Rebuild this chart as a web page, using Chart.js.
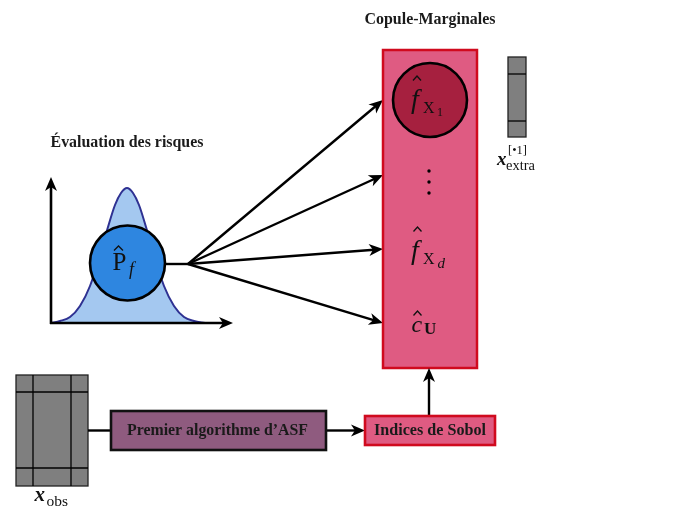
<!DOCTYPE html>
<html>
<head>
<meta charset="utf-8">
<script src="https://cdn.jsdelivr.net/npm/chart.js@4/dist/chart.umd.min.js"></script>
<style>
  html, body { margin: 0; padding: 0; background: #fff; }
  canvas { display: block; }
</style>
</head>
<body>
<canvas id="diagram" width="691" height="510"></canvas>
<script>
// density curve under the risk-evaluation node
const bellX = [51, 60, 70, 80, 90, 100, 108, 115, 121, 127, 133, 139, 146, 154, 164, 174, 184, 194, 205];
const bellY = [323, 321, 317, 306, 286, 255, 227, 205, 193, 188, 193, 205, 227, 255, 286, 306, 317, 321, 323];

// labels
const titles = ['Copule-Marginales', 'Évaluation des risques'];
const boxLabels = ['Premier algorithme d\u2019ASF', 'Indices de Sobol'];
const fanTargets = [100, 175, 249, 323];   // y where the fan arrows hit the copula box

// layout (pixel space of the 691x510 page)
const base = 323;
const fanFrom = { x: 188, y: 264 };
const pf = { x: 127.5, y: 263, r: 37.5 };
const fx1 = { x: 430, y: 100, r: 37 };
const copBox = { x0: 383, y0: 50, x1: 477, y1: 368 };
const asfBox = { x0: 111, y0: 411, x1: 326, y1: 450 };
const sobBox = { x0: 365, y0: 416, x1: 495, y1: 445 };
const obs = { x0: 16, y0: 375, x1: 88, y1: 486, vx: [33, 71], hy: [392, 468] };
const extra = { x0: 508, y0: 57, x1: 526, y1: 137, hy: [74, 121] };

const SERIF = '"Liberation Serif", "DejaVu Serif", serif';

function stealth(ctx, x0, y0, x1, y1, len, half) {
  const a = Math.atan2(y1 - y0, x1 - x0);
  ctx.save();
  ctx.translate(x1, y1);
  ctx.rotate(a);
  ctx.beginPath();
  ctx.moveTo(0, 0);
  ctx.lineTo(-len, -half);
  ctx.lineTo(-len * 0.72, 0);
  ctx.lineTo(-len, half);
  ctx.closePath();
  ctx.fillStyle = '#000';
  ctx.fill();
  ctx.restore();
}

function arrow(ctx, x0, y0, x1, y1, w) {
  const a = Math.atan2(y1 - y0, x1 - x0);
  ctx.beginPath();
  ctx.moveTo(x0, y0);
  ctx.lineTo(x1 - Math.cos(a) * 9, y1 - Math.sin(a) * 9);
  ctx.lineWidth = w || 2.4;
  ctx.strokeStyle = '#000';
  ctx.stroke();
  stealth(ctx, x0, y0, x1, y1, 14, 6);
}

function line(ctx, x0, y0, x1, y1, w) {
  ctx.beginPath();
  ctx.moveTo(x0, y0);
  ctx.lineTo(x1, y1);
  ctx.lineWidth = w || 2.4;
  ctx.strokeStyle = '#000';
  ctx.stroke();
}

function rect(ctx, b, fill, stroke, w) {
  ctx.fillStyle = fill;
  ctx.fillRect(b.x0, b.y0, b.x1 - b.x0, b.y1 - b.y0);
  ctx.lineWidth = w;
  ctx.strokeStyle = stroke;
  ctx.strokeRect(b.x0, b.y0, b.x1 - b.x0, b.y1 - b.y0);
}

function disc(ctx, c, fill) {
  ctx.beginPath();
  ctx.arc(c.x, c.y, c.r, 0, Math.PI * 2);
  ctx.fillStyle = fill;
  ctx.fill();
  ctx.lineWidth = 2.6;
  ctx.strokeStyle = '#000';
  ctx.stroke();
}

// bold text squeezed/stretched to a measured width
function fitText(ctx, text, cx, y, width, size) {
  ctx.font = 'bold ' + size + 'px ' + SERIF;
  const s = size * width / ctx.measureText(text).width;
  ctx.font = 'bold ' + s.toFixed(2) + 'px ' + SERIF;
  ctx.textAlign = 'center';
  ctx.textBaseline = 'middle';
  ctx.fillStyle = '#1a1a1a';
  ctx.fillText(text, cx, y);
}

function glyph(ctx, t, font, x, y) {
  ctx.textAlign = 'left';
  ctx.textBaseline = 'alphabetic';
  ctx.fillStyle = '#111';
  ctx.font = font;
  ctx.fillText(t, x, y);
  return x + ctx.measureText(t).width;
}

function hat(ctx, cx, top, w) {
  ctx.beginPath();
  ctx.moveTo(cx - w / 2, top + 4.5);
  ctx.lineTo(cx, top);
  ctx.lineTo(cx + w / 2, top + 4.5);
  ctx.lineWidth = 1.3;
  ctx.strokeStyle = '#111';
  ctx.stroke();
}

const diagramPlugin = {
  id: 'diagram',
  afterDatasetsDraw(chart) {
    const ctx = chart.ctx;
    const sx = chart.scales.x, sy = chart.scales.y;
    const X = v => sx.getPixelForValue(v), Y = v => sy.getPixelForValue(v);
    const P = o => ({ x: X(o.x), y: Y(o.y), r: X(o.x + o.r) - X(o.x) });
    const B = o => ({ x0: X(o.x0), y0: Y(o.y0), x1: X(o.x1), y1: Y(o.y1) });
    ctx.save();
    ctx.lineCap = 'butt';

    // axes of the density plot
    arrow(ctx, X(bellX[0] - 1), Y(base), X(233), Y(base), 2.6);
    arrow(ctx, X(bellX[0]), Y(base + 1), X(bellX[0]), Y(177), 2.6);

    // fan towards the copula / marginals
    line(ctx, X(pf.x + pf.r), Y(fanFrom.y), X(fanFrom.x), Y(fanFrom.y));
    for (const ty of fanTargets) {
      arrow(ctx, X(fanFrom.x), Y(fanFrom.y), X(copBox.x0), Y(ty));
    }

    disc(ctx, P(pf), '#2E86E0');

    // copula / marginals block
    rect(ctx, B(copBox), '#DF5B82', '#D00A1E', 2.5);
    disc(ctx, P(fx1), '#A6203F');

    const fBig = 'italic 28px ' + SERIF;

    // f_X1
    glyph(ctx, 'f', fBig, X(411), Y(108));
    hat(ctx, X(417), Y(76), 8);
    glyph(ctx, 'X', '16px ' + SERIF, X(423), Y(113));
    glyph(ctx, '1', '12px ' + SERIF, X(437), Y(116));

    // vertical dots
    ctx.fillStyle = '#000';
    for (const dy of [171, 182, 193]) {
      ctx.beginPath();
      ctx.arc(X(429), Y(dy), 1.7, 0, Math.PI * 2);
      ctx.fill();
    }

    // f_Xd
    glyph(ctx, 'f', fBig, X(411), Y(259));
    hat(ctx, X(417.5), Y(227), 8);
    glyph(ctx, 'X', '16px ' + SERIF, X(423), Y(264));
    glyph(ctx, 'd', 'italic 15px ' + SERIF, X(437.5), Y(268));

    // c_U
    glyph(ctx, 'c', 'italic 24px ' + SERIF, X(411.5), Y(332));
    hat(ctx, X(417.5), Y(311), 8);
    glyph(ctx, 'U', 'bold 17px ' + SERIF, X(424), Y(334));

    // P_f
    glyph(ctx, 'P', '25px ' + SERIF, X(112.5), Y(270));
    hat(ctx, X(118.5), Y(246), 9);
    glyph(ctx, 'f', 'italic 18px ' + SERIF, X(129), Y(275));

    // extra sample column
    const e = B(extra);
    rect(ctx, e, '#7F7F7F', '#222', 1.3);
    for (const hy of extra.hy) line(ctx, e.x0, Y(hy), e.x1, Y(hy), 1.3);
    glyph(ctx, 'x', 'bold italic 19px ' + SERIF, X(497), Y(165));
    glyph(ctx, 'extra', '14.5px ' + SERIF, X(506), Y(170));
    glyph(ctx, '[\u20221]', '12.5px ' + SERIF, X(508), Y(154));

    // observed sample matrix
    const o = B(obs);
    rect(ctx, o, '#7F7F7F', '#222', 1.3);
    for (const vx of obs.vx) line(ctx, X(vx), o.y0, X(vx), o.y1, 1.3);
    for (const hy of obs.hy) line(ctx, o.x0, Y(hy), o.x1, Y(hy), 1.3);
    glyph(ctx, 'x', 'bold italic 21px ' + SERIF, X(34.5), Y(501));
    glyph(ctx, 'obs', '15.5px ' + SERIF, X(46.5), Y(506));

    // pipeline boxes
    const midY = (asfBox.y0 + asfBox.y1) / 2;
    line(ctx, o.x1, Y(midY), X(asfBox.x0), Y(midY));
    arrow(ctx, X(asfBox.x1), Y(midY), X(sobBox.x0), Y(midY));
    const sCx = 429;
    arrow(ctx, X(sCx), Y(sobBox.y0), X(sCx), Y(copBox.y1));
    rect(ctx, B(asfBox), '#8F5B7F', '#111', 2.6);
    rect(ctx, B(sobBox), '#DF5B82', '#D00A1E', 2.6);

    fitText(ctx, boxLabels[0], X(217.5), Y(430.5), 181, 14);
    fitText(ctx, boxLabels[1], X(430), Y(431), 112, 14);
    fitText(ctx, titles[0], X(430), Y(19.5), 131, 14);
    fitText(ctx, titles[1], X(127), Y(143), 153, 14);

    ctx.restore();
  }
};

new Chart(document.getElementById('diagram'), {
  type: 'line',
  data: {
    datasets: [{
      label: 'densité',
      data: bellX.map((v, i) => ({ x: v, y: bellY[i] })),
      borderColor: '#2E3192',
      borderWidth: 2,
      backgroundColor: '#A4C8F0',
      fill: { value: base },
      pointRadius: 0,
      cubicInterpolationMode: 'monotone'
    }]
  },
  options: {
    responsive: false,
    animation: false,
    layout: { padding: 0 },
    plugins: { legend: { display: false }, tooltip: { enabled: false } },
    scales: {
      x: { type: 'linear', min: 0, max: 691, display: false },
      y: { type: 'linear', min: 0, max: 510, reverse: true, display: false }
    }
  },
  plugins: [diagramPlugin]
});
</script>
</body>
</html>
